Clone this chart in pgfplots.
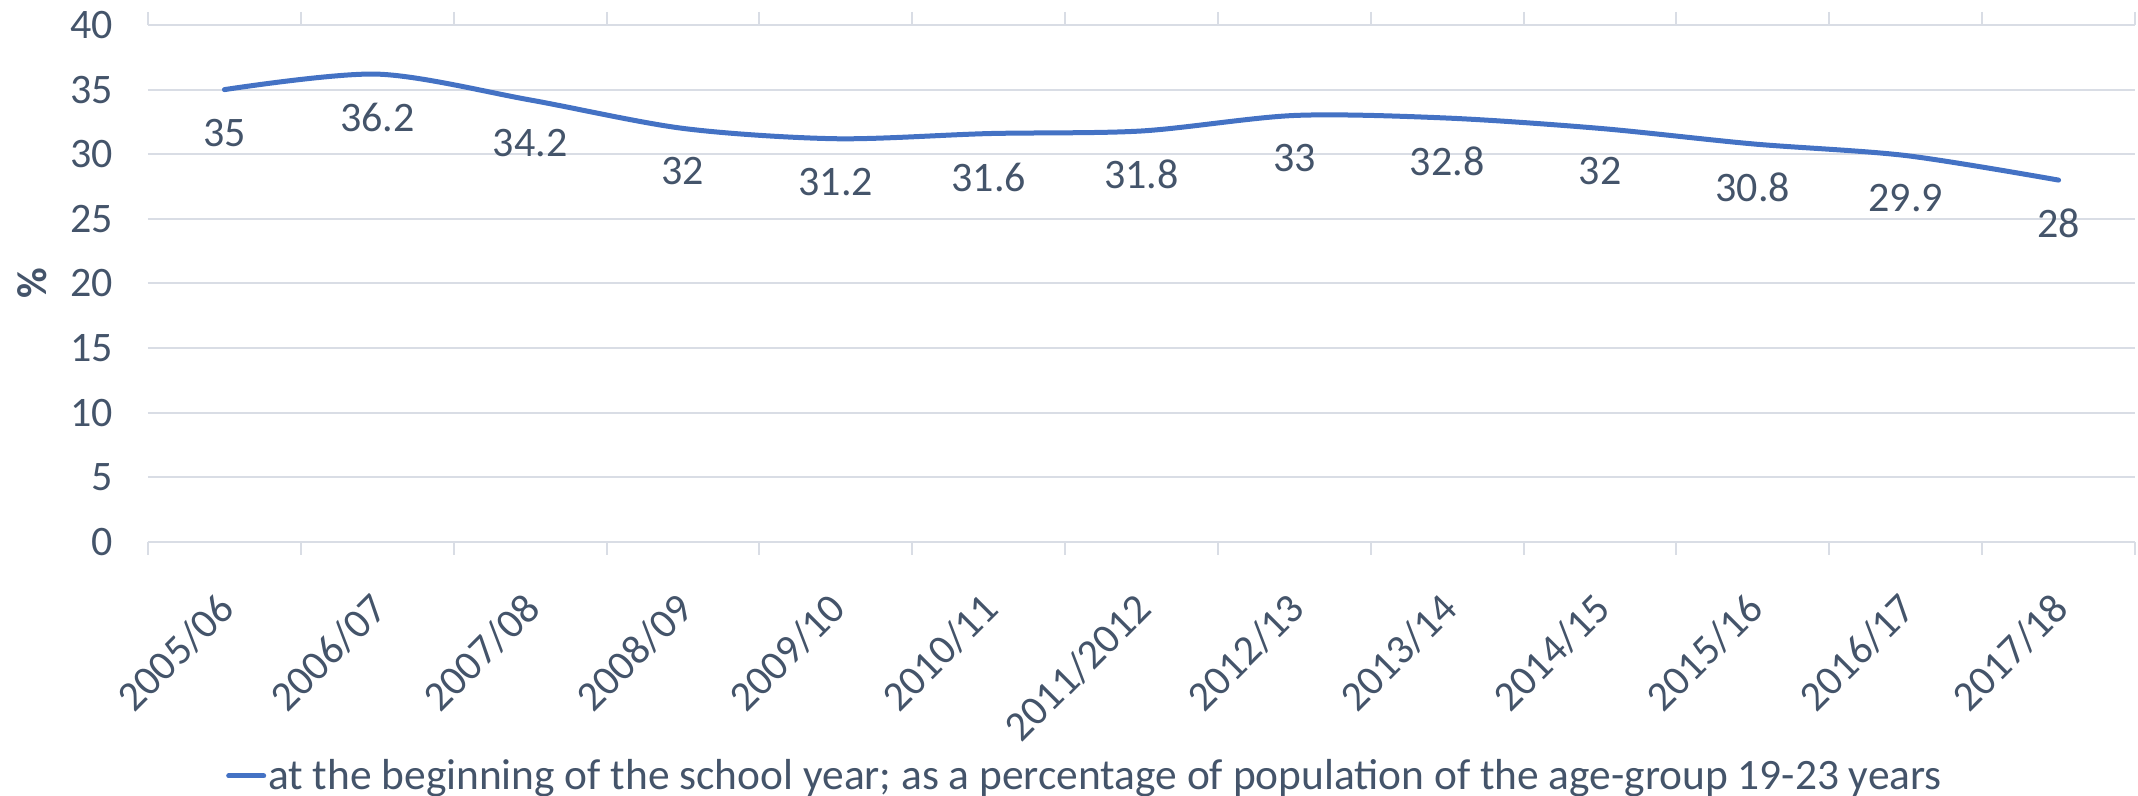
\documentclass[border=0pt]{standalone}
\usepackage{fontspec}
\setmainfont{Carlito}
\usepackage{pgfplots}
\pgfplotsset{compat=1.18}
\definecolor{linec}{HTML}{4472C4}
\definecolor{txtc}{HTML}{44546A}
\definecolor{gridc}{HTML}{D9DDE5}
\newcommand{\chartfont}{\fontsize{21}{25}\selectfont}
\pgfkeys{/pgf/number format/assume math mode=true}

\begin{document}
\begin{tikzpicture}
\useasboundingbox (-74pt,-127pt) rectangle (995pt,271pt);
\begin{axis}[
  at={(0,0)}, anchor=south west,
  scale only axis, width=993.5pt, height=258.5pt,
  xmin=-0.5, xmax=12.5, ymin=0, ymax=40,
  ytick={0,5,...,40},
  xtick={0,...,12},
  xticklabels={2005/06,2006/07,2007/08,2008/09,2009/10,2010/11,2011/2012,2012/13,2013/14,2014/15,2015/16,2016/17,2017/18},
  axis line style={draw=none},
  ymajorgrids, grid style={draw=gridc, line width=1pt},
  major tick length=0pt,
  extra x ticks={-0.5,0.5,...,12.5},
  extra x tick labels={},
  extra x tick style={grid=none, major tick length=6.5pt, tick align=outside,
    tick style={draw=gridc, line width=1pt}},
  tick label style={font=\chartfont, text=txtc},
  yticklabel style={xshift=-14pt},
  % shifts below are in the rotated frame of the label
  xticklabel style={rotate=45, anchor=east, inner sep=0pt, xshift=-20pt, yshift=-22pt},
  ylabel={\textbf{\%}},
  ylabel style={font=\chartfont, text=txtc, at={(axis description cs:0,0.5)}, anchor=center, yshift=58pt},
  point meta=explicit symbolic,
  nodes near coords,
  nodes near coords style={font=\chartfont, text=txtc, anchor=north, yshift=-10pt},
  legend style={at={(0.4716,-0.4526)}, anchor=center, draw=none, fill=none,
    font=\fontsize{21.7}{26}\selectfont, text=txtc, nodes={inner xsep=1pt}},
  legend image code/.code={\draw[line width=2.5pt, line cap=round, linec] (0pt,0pt) -- (17.5pt,0pt);},
]
\addplot[linec, line width=2.5pt, line cap=round, smooth, mark=none] coordinates {
  (0,35)[35] (1,36.2)[36.2] (2,34.2)[34.2] (3,32)[32] (4,31.2)[31.2] (5,31.6)[31.6]
  (6,31.8)[31.8] (7,33)[33] (8,32.8)[32.8] (9,32)[32] (10,30.8)[30.8] (11,29.9)[29.9] (12,28)[28]
};
\legend{at the beginning of the school year; as a percentage of population of the age-group 19-23 years}
\end{axis}
\end{tikzpicture}
\end{document}
